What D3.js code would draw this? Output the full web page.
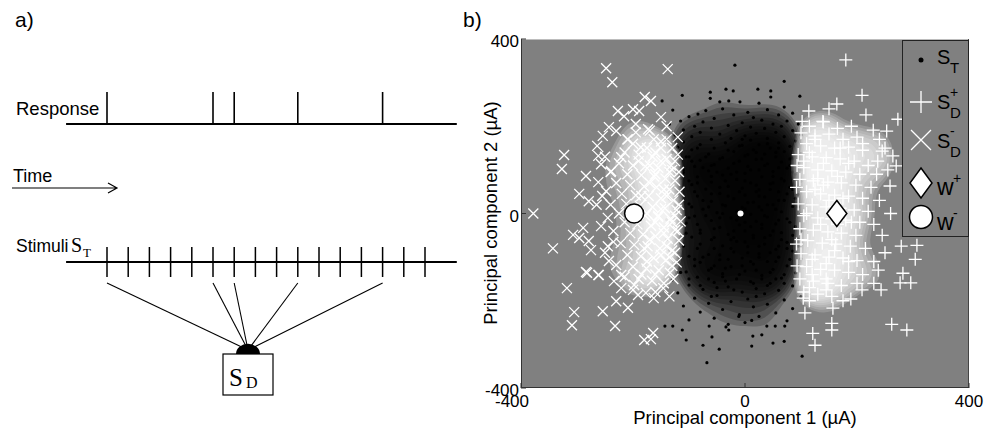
<!DOCTYPE html>
<html>
<head>
<meta charset="utf-8">
<script src="https://cdn.jsdelivr.net/npm/d3@7"></script>
<style>
  body { margin: 0; background: #fff; }
  svg { display: block; }
  text { font-family: "Liberation Sans", Arial, sans-serif; fill: #000; }
  .serif { font-family: "Liberation Serif", "Times New Roman", serif; }
</style>
</head>
<body>
<svg id="fig" width="995" height="431"></svg>
<script>
// ---------- Panel a: stimulus train and response ----------
const stimulusTimes = [0, 1, 2, 3, 4, 5, 6, 7, 8, 9, 10, 11, 12, 13, 14, 15];
const responseTimes = [0, 5, 6, 9, 13];
const timeSpan = [-1.93, 16.5];

// ---------- Panel b: principal components (µA) ----------
const axisTicks = [-400, 0, 400];

// stimuli S_T
const stimT = [
  [-18,340],[70,303],[-112,271],[-148,258],[-62,278],[-62,264],[-34,285],[-21,281],[23,285],[46,281],
  [46,267],[98,269],[70,244],[25,253],[-9,256],[-29,258],[-45,256],[-129,237],[-84,228],[-40,240],
  [-70,236],[5,232],[40,238],[85,230],[60,226],[-100,222],[-20,226],[15,220],[-55,218],[30,214],
  [-115,212],[75,212],[-75,210],[95,205],[-5,208],[50,205],[-135,205],[-90,200],[-30,202],[10,198],
  [65,200],[-60,196],[35,195],[-110,192],[85,190],[-15,190],[-80,186],[55,186],[20,184],[-45,182],
  [-125,180],[100,180],[0,178],[-95,176],[70,176],[-25,172],[40,172],[-60,170],[10,168],[-140,170],
  [90,166],[-110,164],[-35,162],[60,162],[25,158],[-80,158],[-5,156],[80,154],[-120,152],[45,150],
  [-55,150],[15,146],[-95,146],[-20,142],[70,142],[-130,140],[100,138],[35,136],[-65,136],[0,132],
  [-105,130],[55,130],[-40,128],[85,126],[20,124],[-80,122],[-10,120],[-120,118],[65,118],[40,114],
  [-55,112],[95,112],[5,108],[-90,108],[-30,104],[75,104],[-140,102],[25,100],[-65,98],[50,96],
  [-110,94],[0,92],[90,90],[-40,88],[-85,84],[30,84],[65,80],[-15,78],[-125,76],[100,74],
  [-60,72],[10,70],[45,68],[-95,66],[-30,62],[80,60],[-5,58],[-70,56],[25,54],[-115,52],
  [60,50],[-45,46],[95,44],[0,42],[-85,40],[35,38],[-20,34],[-135,34],[70,30],[-60,28],
  [15,26],[-100,22],[50,20],[-35,18],[85,16],[-5,14],[-75,10],[30,8],[-120,6],[65,4],
  [-50,2],[100,0],[10,-2],[-90,-6],[40,-8],[-25,-10],[75,-12],[-140,-14],[-60,-16],[20,-18],
  [-105,-22],[55,-24],[-10,-26],[90,-30],[-45,-32],[30,-34],[-80,-38],[0,-40],[-125,-42],[65,-44],
  [-30,-48],[45,-50],[-95,-54],[15,-56],[95,-58],[-60,-60],[-15,-64],[75,-66],[-115,-68],[35,-70],
  [-40,-74],[5,-76],[-85,-80],[55,-82],[-135,-84],[85,-86],[-20,-88],[25,-92],[-65,-94],[-100,-98],
  [60,-100],[-5,-102],[100,-104],[-45,-106],[40,-110],[-80,-112],[15,-116],[-125,-118],[75,-120],[-25,-122],
  [-60,-126],[50,-128],[0,-132],[-105,-134],[90,-136],[-40,-138],[30,-142],[-85,-146],[65,-148],[-15,-150],
  [-130,-152],[10,-156],[-55,-158],[45,-160],[-100,-164],[85,-166],[-30,-168],[20,-172],[-75,-174],[60,-176],
  [-5,-180],[-120,-182],[35,-184],[-50,-188],[100,-190],[-90,-194],[5,-196],[70,-198],[-25,-202],[-65,-206],
  [40,-208],[-110,-212],[15,-214],[85,-218],[-40,-220],[-80,-226],[55,-228],[-10,-232],[25,-236],[-55,-240],
  [-100,-244],[75,-246],[0,-250],[-30,-254],
  [-68,-342],[-105,-290],[-75,-302],[-46,-311],[12,-304],[50,-297],[70,-293],[102,-327],[-59,-283],[-143,-258],
  [-129,-258],[-112,-267],[14,-281],[30,-278],[39,-258],[54,-258],[71,-258],[-34,-260],[-29,-267],[-64,-258],
  [12,-245],[-11,-236],
  [-70,130],[-20,115],[30,125],[80,110],[-110,100],[-50,95],[10,100],[60,105],[-85,70],[-35,75],
  [20,65],[70,75],[-120,40],[-60,45],[-10,50],[45,55],[90,35],[-95,15],[-40,20],[5,25],
  [55,10],[-130,-10],[-70,-5],[-15,-15],[35,-5],[80,-20],[-105,-45],[-55,-35],[0,-20],[50,-40],
  [-80,-70],[-25,-60],[25,-75],[75,-80],[-120,-90],[-45,-95],[5,-90],[55,-110],[-90,-120],[-35,-125],
  [20,-130],[70,-140],[-65,-150],[-10,-140],[40,-165],[-115,-135],[-50,-170],[-20,-40],[15,-50],[-75,30],
  [25,40],[-45,60],[65,-60],[-95,120],[40,160],[-30,145],[-130,60],[95,-75],[-60,-190],[10,-110],
  [-100,75],[50,85],[-15,95],[-75,-100],[85,55],[-40,0],[30,-25],[0,10],[-110,-25],[60,30],
  [-25,-80],[-85,-25],[20,140],[-60,110],[80,125],[-140,-60],[100,-40],[-5,170],[-35,-155],[55,-150],
  [-100,130],[-45,125],[5,135],[55,140],[-75,105],[-25,90],[35,110],[85,95],[-115,80],[-60,85],
  [0,75],[50,70],[-90,50],[-30,40],[20,50],[75,45],[-125,20],[-65,15],[-15,5],[40,20],
  [95,15],[-100,-10],[-45,-10],[10,-30],[60,-15],[-80,-45],[-20,-55],[35,-55],[85,-50],[-110,-75],
  [-55,-80],[0,-65],[45,-90],[-90,-105],[-30,-105],[25,-100],[80,-105],[-65,-130],[-5,-120],[45,-135],
  [-100,-150],[-40,-145],[15,-160],[70,-160],[-80,-165],[-20,-175],[30,-150],[-55,-120],[60,-75],[-5,-5],
  [25,15],[-55,-55],[-130,110],[100,100],[-120,-110],[95,-120],[-10,155],[-85,150],[60,150],[20,-190]
];

// positive discharge stimuli S_D+
const stimDplus = [
  [180,352],[209,271],[164,251],[114,235],[150,240],[139,211],[102,211],[216,226],[253,189],[264,132],
  [270,109],[245,143],[237,120],[229,191],[259,63],[307,-73],[304,-105],[282,-137],[277,-159],[296,-159],
  [243,-175],[262,-254],[289,-267],[189,-196],[155,-252],[155,-267],[121,-275],[125,-302],[157,-217],[107,-228],
  [104,-194],[209,-175],[238,-130],[279,-75],[273,216],
  [100,185],[125,178],[150,182],[175,170],[200,175],[110,160],[135,155],[160,150],[185,152],[210,145],
  [95,135],[120,130],[145,128],[170,125],[195,120],[220,110],[105,105],[130,100],[155,98],[180,95],
  [205,90],[98,78],[122,75],[148,72],[172,70],[198,65],[225,60],[110,50],[135,45],[160,42],
  [185,40],[210,35],[95,22],[120,20],[145,15],[170,12],[195,8],[220,5],[105,-5],[130,-10],
  [155,-12],[180,-15],[205,-20],[230,-25],[98,-35],[122,-38],[148,-42],[172,-45],[198,-50],[112,-62],
  [138,-68],[162,-70],[188,-75],[215,-80],[100,-92],[125,-95],[150,-100],[175,-102],[200,-108],[110,-122],
  [135,-128],[160,-130],[185,-135],[210,-140],[98,-150],[122,-155],[148,-160],[172,-165],[105,-180],[130,-185],
  [155,-190],[115,200],[140,210],[165,195],[190,200],[92,60],[92,-70],[240,30],[245,-50],[235,90],
  [230,-110],[250,150],[240,170],[93,110],[93,-120],[155,-60],[140,65],[165,-25],[120,-105],[185,115],
  [145,-150],[200,-160],[210,160],[230,-160],[255,100],[260,0],[250,-90],[115,-200],[175,-200],
  [115,140],[140,115],[165,85],[125,55],[150,30],[110,0],[135,-25],[160,-85],[120,-140],[145,-115],
  [105,120],[130,80],[175,35],[100,-60],[185,-110],[115,-170],[170,150],[145,-175],[190,-20],[125,170]
];

// negative discharge stimuli S_D-
const stimDminus = [
  [-378,0],[-248,333],[-138,331],[-237,301],[-323,134],[-327,102],[-343,-80],[-318,-171],[-305,-226],[-309,-256],
  [-232,-258],[-180,-290],[-164,-274],[-282,-136],[-262,-141],
  [-227,235],[-216,223],[-200,239],[-189,235],[-179,267],[-168,258],[-150,221],[-243,198],[-230,189],[-254,178],
  [-264,155],[-262,132],[-257,113],[-284,86],[-296,45],[-239,97],[-221,129],[-209,170],[-195,186],[-186,152],
  [-173,193],[-163,170],[-262,72],[-279,28],[-248,51],
  [-307,-49],[-289,-33],[-296,-56],[-279,-63],[-275,-84],[-284,-134],[-261,-141],[-254,-224],[-168,-288],[-230,-201],
  [-209,-216],[-234,-155],[-221,-171],[-191,-187],[-243,-109],[-257,-29],[-245,-75],[-221,-141],[-198,-164],[-177,-182],
  [-163,-194],[-146,-171],
  [-200,160],[-175,150],[-150,165],[-130,150],[-215,140],[-190,135],[-165,130],[-140,125],[-120,135],[-225,115],
  [-200,110],[-178,108],[-155,105],[-132,110],[-118,95],[-210,90],[-185,88],[-162,85],[-142,80],[-125,75],
  [-230,70],[-205,65],[-180,62],[-158,60],[-135,55],[-117,50],[-220,45],[-195,42],[-172,40],[-150,35],
  [-128,30],[-240,20],[-212,22],[-188,18],[-165,15],[-143,12],[-122,8],[-225,0],[-178,-5],[-155,-8],
  [-133,-12],[-115,-18],[-215,-20],[-192,-25],[-168,-28],[-145,-32],[-125,-38],[-235,-40],[-205,-45],[-182,-48],
  [-160,-52],[-138,-58],[-118,-62],[-222,-68],[-198,-72],[-174,-75],[-152,-80],[-130,-85],[-210,-95],[-186,-98],
  [-163,-102],[-142,-108],[-122,-112],[-230,-118],[-200,-122],[-176,-126],[-154,-130],[-134,-136],[-215,-145],[-190,-150],
  [-166,-154],[-145,-160],[-250,-90],[-255,40],[-250,130],[-245,-10],[-170,190],[-140,200],[-195,205],[-160,-180],
  [-135,-190],[-200,-175],[-150,150],[-175,0],[-160,90],[-145,-45],[-130,100],[-185,-140],[-128,-150],[-210,170],
  [-120,175],[-240,95],[-265,20],[-235,-65],[-190,120],[-170,-60],[-150,-95],[-140,40],[-125,-90],[-155,-5],
  [-130,-20],[-118,20],
  [-160,140],[-135,95],[-170,70],[-145,55],[-125,-5],[-160,-20],[-140,-75],[-175,-110],[-130,-120],[-150,120],
  [-185,40],[-120,-40],[-160,-140],[-140,170],[-195,-10],[-125,120],[-150,10],[-170,110],[-135,-100],[-180,-80]
];

// class centres
const wPlus = [164, 0];
const wMinus = [-198, 0];
const meanT = [-8, 0];

const legendLabels = [
  { sym: "dot", base: "S", sup: "", sub: "T" },
  { sym: "plus", base: "S", sup: "+", sub: "D" },
  { sym: "cross", base: "S", sup: "-", sub: "D" },
  { sym: "diamond", base: "w", sup: "+", sub: "" },
  { sym: "circle", base: "w", sup: "-", sub: "" }
];

const svg = d3.select("#fig");

// ================= Panel a =================
const ga = svg.append("g");
ga.append("text").attr("x", 15).attr("y", 27).attr("font-size", 21).text("a)");

const t = d3.scaleLinear().domain([0, 15]).range([107, 425]);
const yResp = 124, yStim = 262;

// response train
ga.append("line").attr("x1", t(timeSpan[0])).attr("x2", t(timeSpan[1]))
  .attr("y1", yResp).attr("y2", yResp).attr("stroke", "#000").attr("stroke-width", 2);
ga.selectAll(".spike").data(responseTimes).join("line")
  .attr("x1", d => t(d)).attr("x2", d => t(d)).attr("y1", yResp).attr("y2", yResp - 32)
  .attr("stroke", "#000").attr("stroke-width", 1.6);
ga.append("text").attr("x", 16).attr("y", 115).attr("font-size", 18.5).text("Response");

// time arrow
ga.append("text").attr("x", 13).attr("y", 182).attr("font-size", 18).text("Time");
ga.append("path").attr("d", "M12,188H117M108,183L117,188L108,193")
  .attr("fill", "none").attr("stroke", "#000").attr("stroke-width", 1.2);

// stimulus train
ga.append("line").attr("x1", t(timeSpan[0])).attr("x2", t(timeSpan[1]))
  .attr("y1", yStim).attr("y2", yStim).attr("stroke", "#000").attr("stroke-width", 2);
ga.selectAll(".stim").data(stimulusTimes).join("line")
  .attr("x1", d => t(d)).attr("x2", d => t(d)).attr("y1", yStim - 15).attr("y2", yStim + 15)
  .attr("stroke", "#000").attr("stroke-width", 1.5);
ga.append("text").attr("x", 16).attr("y", 252).attr("font-size", 17.5).text("Stimuli");
ga.append("text").attr("class", "serif").attr("x", 71).attr("y", 252).attr("font-size", 20).text("S");
ga.append("text").attr("class", "serif").attr("x", 83).attr("y", 257).attr("font-size", 13).text("T");

// connections to the discharge set
const hub = { x: 248, y: 350 };
ga.selectAll(".link").data(responseTimes).join("line")
  .attr("x1", d => t(d)).attr("y1", 283).attr("x2", hub.x).attr("y2", hub.y)
  .attr("stroke", "#000").attr("stroke-width", 1.1);
ga.append("path")
  .attr("d", d3.arc()({ innerRadius: 0, outerRadius: 12, startAngle: -Math.PI / 2, endAngle: Math.PI / 2 }))
  .attr("transform", `translate(${hub.x},354) scale(1,0.85)`).attr("fill", "#000");
ga.append("rect").attr("x", 223).attr("y", 354).attr("width", 50).attr("height", 41)
  .attr("fill", "#fff").attr("stroke", "#000").attr("stroke-width", 1.2);
ga.append("text").attr("class", "serif").attr("x", 229).attr("y", 386).attr("font-size", 25).text("S");
ga.append("text").attr("class", "serif").attr("x", 246).attr("y", 388).attr("font-size", 16).text("D");

// ================= Panel b =================
svg.append("text").attr("x", 463).attr("y", 27).attr("font-size", 21).text("b)");

const x = d3.scaleLinear().domain([-400, 400]).range([521, 969]);
const y = d3.scaleLinear().domain([-400, 400]).range([388, 39]);
const gb = svg.append("g");

svg.append("defs").append("clipPath").attr("id", "plotclip")
  .append("rect").attr("x", 521).attr("y", 39).attr("width", 448).attr("height", 349);

gb.append("rect").attr("x", 521).attr("y", 39).attr("width", 448).attr("height", 349).attr("fill", "#808080");

const plot = gb.append("g").attr("clip-path", "url(#plotclip)");

// crowded centre of each cloud: many stacked kernel-density levels, so the
// overplotted core fades smoothly out into the individual markers
function densityCore(pts, bw, fLo, fHi, step, color, op) {
  const gen = d3.contourDensity().x(d => x(d[0])).y(d => y(d[1]))
    .size([995, 431]).bandwidth(bw).thresholds(120);
  const cs = gen(pts);
  const maxv = d3.max(cs, c => c.value);
  for (let f = fLo; f <= fHi + 1e-9; f += step) {
    const c = cs.find(c => c.value >= f * maxv);
    if (c) plot.append("path").attr("d", d3.geoPath()(c)).attr("fill", color).attr("fill-opacity", op);
  }
}

const plusPath = "M-6.5,0H6.5M0,-6.5V6.5";
const crossPath = "M-5,-5L5,5M-5,5L5,-5";

densityCore(stimT, 13, 0.4, 0.92, 0.04, "#000", 0.2);
plot.selectAll(".st").data(stimT).join("circle")
  .attr("cx", d => x(d[0])).attr("cy", d => y(d[1])).attr("r", 1.6).attr("fill", "#000");

densityCore(stimDplus, 12, 0.44, 0.92, 0.04, "#fff", 0.17);
plot.selectAll(".sp").data(stimDplus).join("path")
  .attr("d", plusPath).attr("transform", d => `translate(${x(d[0])},${y(d[1])})`)
  .attr("stroke", "#fff").attr("stroke-width", 1.3).attr("fill", "none");

densityCore(stimDminus, 12, 0.5, 0.94, 0.04, "#fff", 0.18);
plot.selectAll(".sm").data(stimDminus).join("path")
  .attr("d", crossPath).attr("transform", d => `translate(${x(d[0])},${y(d[1])})`)
  .attr("stroke", "#fff").attr("stroke-width", 1.3).attr("fill", "none");

// centres
plot.append("path").attr("d", "M0,-13L10,0L0,13L-10,0Z")
  .attr("transform", `translate(${x(wPlus[0])},${y(wPlus[1])})`)
  .attr("fill", "#fff").attr("stroke", "#000").attr("stroke-width", 1.5);
plot.append("circle").attr("cx", x(wMinus[0])).attr("cy", y(wMinus[1])).attr("r", 9.5)
  .attr("fill", "#fff").attr("stroke", "#000").attr("stroke-width", 1.5);
plot.append("circle").attr("cx", x(meanT[0])).attr("cy", y(meanT[1])).attr("r", 3).attr("fill", "#fff");

// axes frame
gb.append("line").attr("x1", 521).attr("x2", 969).attr("y1", 39.5).attr("y2", 39.5).attr("stroke", "#bdbdbd");
gb.append("line").attr("x1", 968.5).attr("x2", 968.5).attr("y1", 39).attr("y2", 388).attr("stroke", "#444");
gb.append("line").attr("x1", 521.5).attr("x2", 521.5).attr("y1", 39).attr("y2", 388).attr("stroke", "#333");
gb.append("line").attr("x1", 521).attr("x2", 969).attr("y1", 387.5).attr("y2", 387.5).attr("stroke", "#333");

gb.selectAll(".xt").data(axisTicks).join("line")
  .attr("x1", d => x(d)).attr("x2", d => x(d)).attr("y1", 388).attr("y2", 383).attr("stroke", "#333");
gb.selectAll(".yt").data(axisTicks).join("line")
  .attr("x1", 521).attr("x2", 526).attr("y1", d => y(d)).attr("y2", d => y(d)).attr("stroke", "#333");

gb.selectAll(".xl").data(axisTicks).join("text")
  .attr("x", d => x(d) + (d < 0 ? -9 : 0)).attr("y", 407).attr("text-anchor", "middle")
  .attr("font-size", 17).text(d => d);
gb.selectAll(".yl").data(axisTicks).join("text")
  .attr("x", 519).attr("y", d => y(d) + 8).attr("text-anchor", "end")
  .attr("font-size", 17).text(d => d);

gb.append("text").attr("x", 745).attr("y", 424).attr("text-anchor", "middle")
  .attr("font-size", 18.5).text("Principal component 1 (µA)");
gb.append("text").attr("transform", "translate(497,213) rotate(-90)").attr("text-anchor", "middle")
  .attr("font-size", 18.5).text("Principal component 2 (µA)");

// legend
const lg = gb.append("g");
lg.append("rect").attr("x", 902.5).attr("y", 40.5).attr("width", 66).attr("height", 196)
  .attr("fill", "#808080").attr("stroke", "#222").attr("stroke-width", 1);
const rowY = [60, 102, 140, 183, 217];
const baseY = [64, 109, 148, 195, 230];
legendLabels.forEach((e, i) => {
  const cy = rowY[i], mx = 921;
  if (e.sym === "dot") lg.append("circle").attr("cx", mx).attr("cy", cy).attr("r", 2.5).attr("fill", "#000");
  if (e.sym === "plus") lg.append("path").attr("d", "M-11,0H11M0,-11V11").attr("transform", `translate(${mx},${cy})`)
    .attr("stroke", "#fff").attr("stroke-width", 1.3);
  if (e.sym === "cross") lg.append("path").attr("d", "M-10,-10L10,10M-10,10L10,-10").attr("transform", `translate(${mx},${cy})`)
    .attr("stroke", "#fff").attr("stroke-width", 1.3);
  if (e.sym === "diamond") lg.append("path").attr("d", "M0,-15L11,0L0,15L-11,0Z").attr("transform", `translate(${mx},${cy})`)
    .attr("fill", "#fff").attr("stroke", "#000").attr("stroke-width", 1.5);
  if (e.sym === "circle") lg.append("circle").attr("cx", mx).attr("cy", cy).attr("r", 11.5)
    .attr("fill", "#fff").attr("stroke", "#000").attr("stroke-width", 1.5);
  const bx = 937;
  lg.append("text").attr("x", bx).attr("y", baseY[i]).attr("font-size", e.base === "S" ? 20 : 23).text(e.base);
  const after = e.base === "S" ? bx + 13 : bx + 16;
  if (e.sup) lg.append("text").attr("x", after).attr("y", baseY[i] - 12).attr("font-size", 14).text(e.sup);
  if (e.sub) lg.append("text").attr("x", after).attr("y", baseY[i] + 9).attr("font-size", 15).text(e.sub);
});
</script>
</body>
</html>
